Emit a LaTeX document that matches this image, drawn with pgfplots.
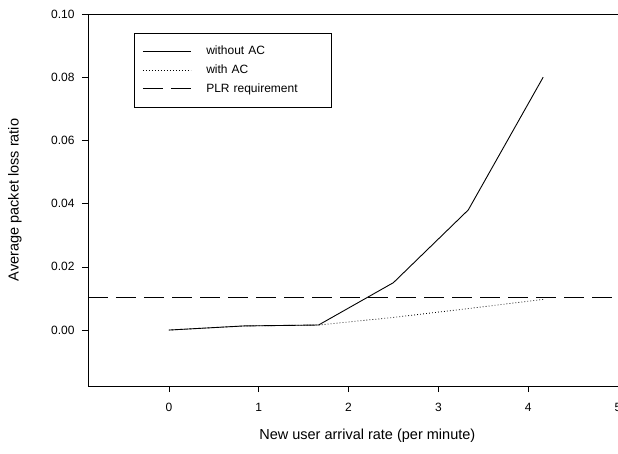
\documentclass[border=0pt]{standalone}
\usepackage{fontspec}
\setmainfont{Liberation Sans}
\usepackage{pgfplots}
\pgfplotsset{compat=1.18}

\begin{document}
\begin{tikzpicture}
\begin{axis}[
    scale only axis,
    width=530pt, height=372pt,
    xmin=-0.9, xmax=5,
    ymin=-0.0177, ymax=0.10,
    xtick={0,1,2,3,4,5},
    ytick={0,0.02,0.04,0.06,0.08,0.10},
    xtick pos=left, ytick pos=left,
    tick align=outside,
    major tick length=6pt,
    tick style={black, line width=0.6pt},
    axis line style={line width=0.8pt},
    /pgf/number format/assume math mode=true,
    yticklabel style={/pgf/number format/fixed, /pgf/number format/fixed zerofill,
        /pgf/number format/precision=2, font=\fontsize{12}{14}\selectfont, xshift=-4pt},
    xticklabel style={font=\fontsize{12}{14}\selectfont, yshift=-8pt},
    scaled y ticks=false,
    xlabel={New user arrival rate (per minute)},
    ylabel={Average packet loss ratio},
    label style={font=\fontsize{14.5}{17}\selectfont},
    xlabel style={at={(axis description cs:0.527,-0.134)}, anchor=center},
    ylabel style={at={(axis description cs:-0.138,0.5)}, anchor=center},
    legend image code/.code={\draw[#1] (0pt,0pt) -- (48pt,0pt);},
    legend style={at={(0.087,0.949)}, anchor=north west, draw=black, line width=0.6pt,
        font=\fontsize{12}{14}\selectfont, inner xsep=8pt, inner ysep=11pt,
        row sep=4.5pt, column sep=0pt,
        nodes={text width=102pt, align=left, inner xsep=15pt}},
    legend cell align=left,
]
\addplot[black, line width=0.9pt] coordinates {
    (0,0) (0.833,0.0013) (1.667,0.0016) (2.5,0.015) (3.333,0.038) (4.167,0.080)};
\addlegendentry{without AC}
\addplot[black, line width=0.8pt, dash pattern=on 0.8pt off 2.2pt] coordinates {
    (0,0) (0.833,0.0013) (1.667,0.0016) (2.5,0.0040) (3.333,0.0068) (4.167,0.0097)};
\addlegendentry{with AC}
\addplot[black, line width=0.9pt, dash pattern=on 20pt off 8pt] coordinates {
    (-0.9,0.0102) (5,0.0102)};
\addlegendentry{PLR requirement}
\end{axis}
\pgfresetboundingbox
\path (current axis.south west) ++(-88pt,-67pt) rectangle ++(618pt,453pt);
\end{tikzpicture}
\end{document}
